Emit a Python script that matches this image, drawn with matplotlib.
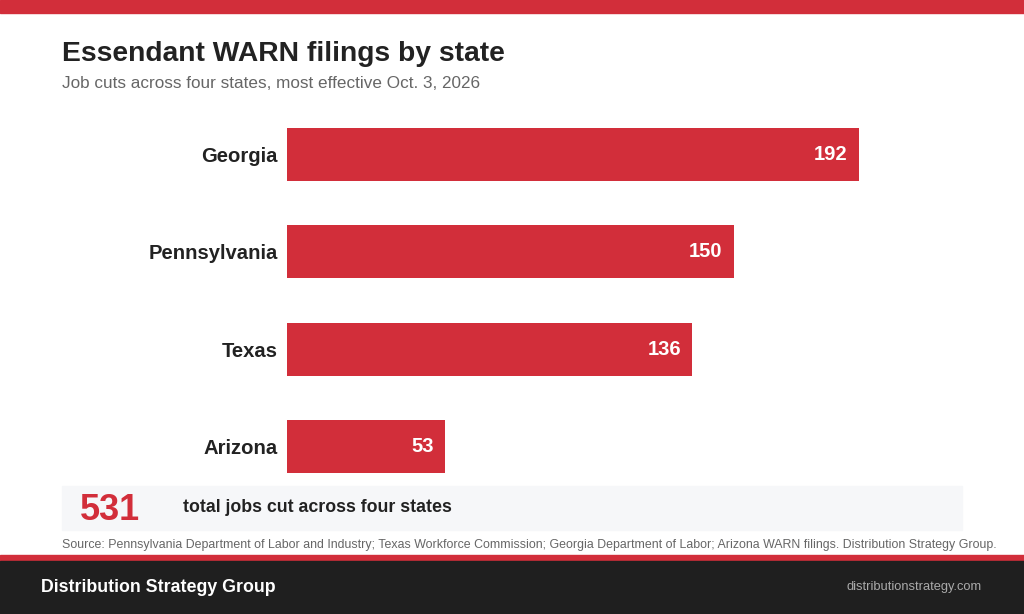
import matplotlib.pyplot as plt
from matplotlib.patches import Rectangle

plt.rcParams['font.family'] = ['Liberation Sans', 'DejaVu Sans']

# data
states = ['Georgia', 'Pennsylvania', 'Texas', 'Arizona']
jobs_cut = [192, 150, 136, 53]
total_jobs = sum(jobs_cut)

title = 'Essendant WARN filings by state'
subtitle = 'Job cuts across four states, most effective Oct. 3, 2026'
source = ('Source: Pennsylvania Department of Labor and Industry; Texas Workforce Commission; '
          'Georgia Department of Labor; Arizona WARN filings. Distribution Strategy Group.')
brand = 'Distribution Strategy Group'
site = 'distributionstrategy.com'

RED = '#d22e3a'
DARK = '#1f1f1f'
W, H = 1024, 614

fig = plt.figure(figsize=(W / 100, H / 100), dpi=100)
fig.patch.set_facecolor('white')


def fx(px):
    return px / W


def fy(py):
    return 1 - py / H


# top red band
fig.add_artist(Rectangle((0, fy(13)), 1, 13 / H, transform=fig.transFigure, color=RED, zorder=0))

fig.text(fx(62), fy(54), title, fontsize=20.3, fontweight='bold', color='#222222', va='center')
fig.text(fx(62), fy(84), subtitle, fontsize=12.3, color='#666666', va='center')

# total box
fig.add_artist(Rectangle((fx(62), fy(530)), fx(962) - fx(62), 44 / H, transform=fig.transFigure,
                         color='#f6f7f9', zorder=0))
fig.text(fx(80), fy(510), str(total_jobs), fontsize=26, fontweight='bold', color=RED, va='center')
fig.text(fx(183), fy(507), 'total jobs cut across four states', fontsize=12.8, fontweight='bold',
         color='#222222', va='center')

fig.text(fx(62), fy(545), source, fontsize=8.9, color='#666666', va='center')

# footer
fig.add_artist(Rectangle((0, fy(561)), 1, 6 / H, transform=fig.transFigure, color=RED, zorder=0))
fig.add_artist(Rectangle((0, 0), 1, fy(561), transform=fig.transFigure, color=DARK, zorder=0))
fig.text(fx(41), fy(587), brand, fontsize=12.8, fontweight='bold', color='white', va='center')
fig.text(fx(982), fy(587), site, fontsize=9.3, color='#aaaaaa', va='center', ha='right')

# bar chart
pitch = 97.33
top_px = 154.5 - pitch / 2
ax = fig.add_axes([fx(287), fy(top_px + 4 * pitch), fx(962) - fx(287), 4 * pitch / H])
ax.patch.set_alpha(0)
ypos = list(range(len(states)))
ax.barh(ypos, jobs_cut, height=0.545, color=RED)
ax.set_xlim(0, 675 / 2.979)
ax.set_ylim(3.5, -0.5)
for s in ax.spines.values():
    s.set_visible(False)
ax.set_xticks([])
ax.set_yticks(ypos)
ax.set_yticklabels(states, fontsize=14.6, fontweight='bold', color='#222222')
ax.tick_params(axis='y', length=0, pad=6.5)
for y, v in zip(ypos, jobs_cut):
    ax.annotate(str(v), (v, y), xytext=(-8, 0), textcoords='offset points', ha='right', va='center',
                fontsize=14.5, fontweight='bold', color='white')

fig.savefig('out.png', dpi=100)
